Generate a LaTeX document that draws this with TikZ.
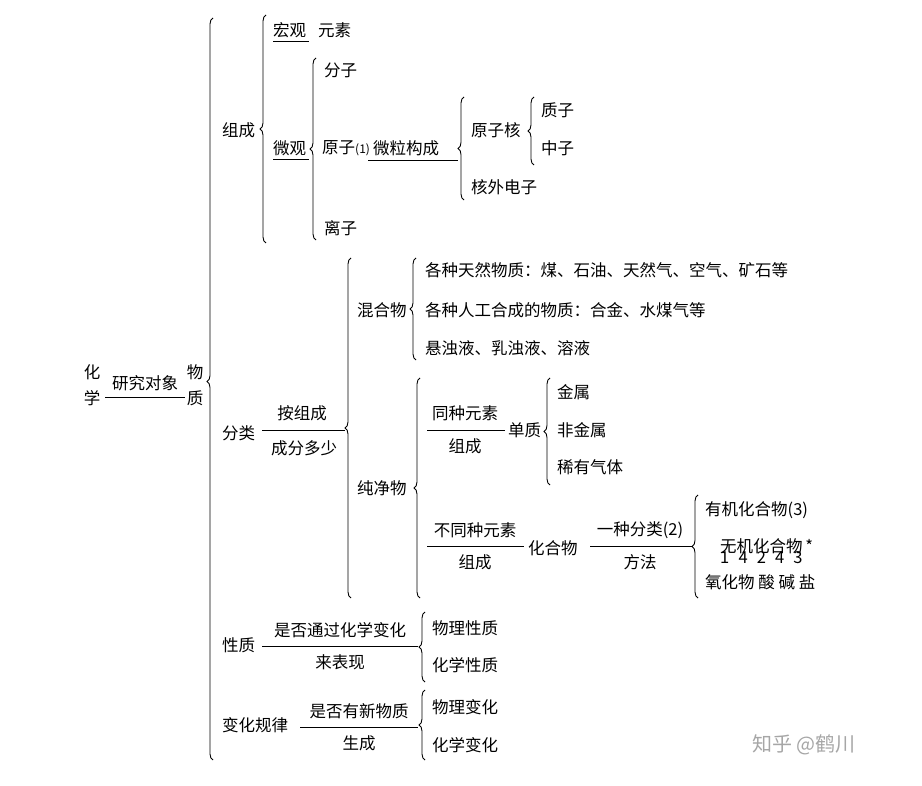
\documentclass[tikz,border=0pt]{standalone}
\usepackage{fontspec}
\setmainfont{Noto Sans CJK SC}
\usetikzlibrary{decorations.pathreplacing}
\begin{document}
\begin{tikzpicture}[x=1pt,y=-1pt,
  t/.style={inner sep=0pt,font=\fontsize{16.5}{18}\selectfont,anchor=west},
  tc/.style={inner sep=0pt,font=\fontsize{16.5}{18}\selectfont},
  br/.style={decorate,decoration={brace,amplitude=6pt,aspect=0.5},line width=0.9pt},
  rl/.style={line width=0.9pt}]
\useasboundingbox (0,0) rectangle (922,786);
% braces: draw bottom->top so tip points left
\newcommand\mybrace[4]{\draw[br,decoration={aspect=#4}] (#1,#3) -- (#1,#2);}
\mybrace{213}{18}{760}{0.51}
\mybrace{266}{15}{243}{0.50}
\mybrace{316}{58}{240}{0.50}
\mybrace{464}{97}{200}{0.50}
\mybrace{534}{97}{165}{0.50}
\mybrace{351}{258}{598}{0.50}
\mybrace{416}{258}{360}{0.50}
\mybrace{420}{378}{598}{0.50}
\mybrace{550}{378}{485}{0.50}
\mybrace{698}{495}{598}{0.50}
\mybrace{425}{612}{682}{0.50}
\mybrace{425}{690}{760}{0.50}
% root
\node[tc] (hua) at (92,372) {化};
\node[tc] (xue) at (92,398) {学};
\node[tc] (yjdx) at (145,383) {研究对象};
\coordinate (l0a) at (105,397); \coordinate (l0b) at (185,397);
\draw[rl] (l0a) -- (l0b);
\node[tc] (wu) at (195,372) {物};
\node[tc] (zhi) at (195,398) {质};
% 组成
\node[t] (zucheng) at (222,130) {组成};
\node[t] (hongguan) at (273,30) {宏观};
\coordinate (l1a) at (273,41); \coordinate (l1b) at (309,41); \draw[rl] (l1a)--(l1b);
\node[t] (yuansu) at (318,30) {元素};
\node[t] (weiguan) at (273,148) {微观};
\coordinate (l2a) at (273,159); \coordinate (l2b) at (309,159); \draw[rl] (l2a)--(l2b);
\node[t] (fenzi) at (324,70) {分子};
\node[t] (yuanzi) at (322,148) {原子{\fontsize{12}{14}\selectfont(1)}};
\node[t] (wljc) at (373,148) {微粒构成};
\coordinate (l3a) at (368,160); \coordinate (l3b) at (458,160); \draw[rl] (l3a)--(l3b);
\node[t] (yzh) at (471,130) {原子核};
\node[t] (hwdz) at (471,187) {核外电子};
\node[t] (zhizi) at (541,110) {质子};
\node[t] (zhongzi) at (541,148) {中子};
\node[t] (lizi) at (324,228) {离子};
% 分类
\node[t] (fenlei) at (222,433) {分类};
\node[tc] (azc) at (302,413) {按组成};
\node[tc] (cfds) at (304,448) {成分多少};
\coordinate (l4a) at (262,430); \coordinate (l4b) at (345,430); \draw[rl] (l4a)--(l4b);
\node[t] (hhw) at (357,310) {混合物};
\node[t] (tr) at (425,270) {各种天然物质：煤、石油、天然气、空气、矿石等};
\node[t] (rg) at (425,310) {各种人工合成的物质：合金、水煤气等};
\node[t] (xzy) at (425,348) {悬浊液、乳浊液、溶液};
\node[t] (cjw) at (357,488) {纯净物};
\node[tc] (tzys) at (465,413) {同种元素};
\node[tc] (zc1) at (465,446) {组成};
\coordinate (l5a) at (427,430); \coordinate (l5b) at (505,430); \draw[rl] (l5a)--(l5b);
\node[t] (dz) at (508,430) {单质};
\node[t] (js) at (557,392) {金属};
\node[t] (fjs) at (557,430) {非金属};
\node[t] (xyqt) at (557,467) {稀有气体};
\node[tc] (btz) at (475,530) {不同种元素};
\node[tc] (zc2) at (475,562) {组成};
\coordinate (l6a) at (427,546); \coordinate (l6b) at (524,546); \draw[rl] (l6a)--(l6b);
\node[t] (hhw2) at (528,548) {化合物};
\node[tc] (yzfl) at (640,530) {一种分类(2)};
\node[tc] (ff) at (640,562) {方法};
\coordinate (l7a) at (590,546); \coordinate (l7b) at (692,546); \draw[rl] (l7a)--(l7b);
\node[t] (yj) at (705,510) {有机化合物(3)};
\node[t] (wj) at (720,546) {无机化合物\,*};
\node[t] (nums) at (720,558) {1\;\;4\;\;2\;\;4\;\;3};
\node[t] (yhw) at (705,582) {氧化物 酸 碱 盐};
% 性质
\node[t] (xz) at (222,645) {性质};
\node[tc] (sfxx) at (340,630) {是否通过化学变化};
\node[tc] (lbx) at (340,662) {来表现};
\coordinate (l8a) at (262,646); \coordinate (l8b) at (418,646); \draw[rl] (l8a)--(l8b);
\node[t] (wlxz) at (432,628) {物理性质};
\node[t] (hxxz) at (432,665) {化学性质};
% 变化规律
\node[t] (bhgl) at (222,725) {变化规律};
\node[tc] (sfyx) at (359,711) {是否有新物质};
\node[tc] (sc) at (359,743) {生成};
\coordinate (l9a) at (300,727); \coordinate (l9b) at (418,727); \draw[rl] (l9a)--(l9b);
\node[t] (wlbh) at (432,707) {物理变化};
\node[t] (hxbh) at (432,745) {化学变化};
% watermark
\node[t,text=gray!70,font=\fontsize{20}{22}\selectfont] (wm) at (752,745) {知乎 @鹤川};
\end{tikzpicture}
\end{document}
